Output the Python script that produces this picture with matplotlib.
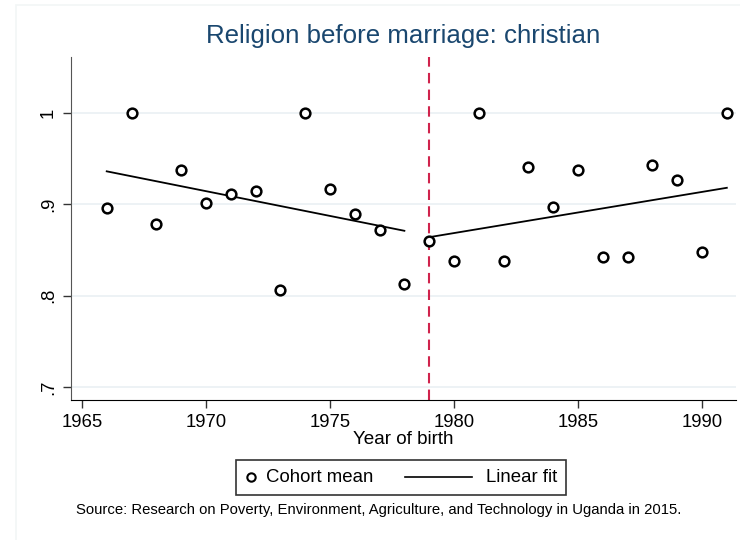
import numpy as np
import matplotlib.pyplot as plt
from matplotlib.patches import Rectangle

plt.rcParams['font.family'] = ['Liberation Sans', 'DejaVu Sans']

years = list(range(1966, 1992))
cohort_mean = [0.896, 1.0, 0.878, 0.938, 0.901, 0.911, 0.915, 0.806, 1.0,
               0.917, 0.889, 0.872, 0.813, 0.860, 0.838, 1.0, 0.838, 0.941,
               0.897, 0.938, 0.842, 0.842, 0.943, 0.927, 0.848, 1.0]

fit_left_x = [1966, 1978]
fit_left_y = [0.936, 0.871]
fit_right_x = [1979, 1991]
fit_right_y = [0.864, 0.918]
cutoff = 1979

xticks = [1965, 1970, 1975, 1980, 1985, 1990]
yticks = [0.7, 0.8, 0.9, 1.0]
ylabels = ['.7', '.8', '.9', '1']

fig = plt.figure(figsize=(7.4, 5.4), dpi=100)
fig.patches.append(Rectangle((16 / 740, -0.1), 1.2, (540 - 5) / 540 + 0.1,
                             transform=fig.transFigure, fill=False,
                             edgecolor='#f2f6f6', lw=1.2))

ax = fig.add_axes([71 / 740, 1 - 400 / 540, (736 - 71) / 740, (400 - 57) / 540])
ax.set_xlim(1964.56, 1991.37)
ax.set_ylim(0.686, 1.061)

for yv in yticks:
    ax.axhline(yv, color='#eaf0f3', lw=1.2, zorder=0)

ax.plot(fit_left_x, fit_left_y, color='black', lw=1.3, zorder=2)
ax.plot(fit_right_x, fit_right_y, color='black', lw=1.3, zorder=2)
ax.axvline(cutoff, color='#d0234c', lw=1.5, ls=(0, (5, 3)), zorder=1)
ax.plot(years, cohort_mean, ls='none', marker='o', ms=7, mfc='white',
        mec='black', mew=1.8, zorder=3)

ax.spines['top'].set_visible(False)
ax.spines['right'].set_visible(False)
ax.spines['left'].set_color('#555555')
ax.spines['bottom'].set_color('black')

ax.set_xticks(xticks)
ax.set_xticklabels([str(x) for x in xticks], fontsize=13.3)
ax.set_yticks(yticks)
ax.set_yticklabels(ylabels, fontsize=13.3, rotation=90, va='center')
ax.tick_params(axis='both', length=6, width=1, color='#333333', pad=4)
ax.set_xlabel('Year of birth', fontsize=13.6, labelpad=0)

fig.text(403 / 740, 1 - 36 / 540, 'Religion before marriage: christian',
         ha='center', va='center', fontsize=18.6, color='#1a476f')

# legend
fig.patches.append(Rectangle((236 / 740, 1 - 495 / 540), 330 / 740, 35 / 540,
                             transform=fig.transFigure, fill=False,
                             edgecolor='#333333', lw=1.2))
fig.lines.append(plt.Line2D([251 / 740], [1 - 477 / 540], ls='none', marker='o',
                            ms=6, mfc='white', mec='black', mew=1.5,
                            transform=fig.transFigure))
fig.text(266 / 740, 1 - 477 / 540, 'Cohort mean', ha='left', va='center', fontsize=13.4)
fig.lines.append(plt.Line2D([405 / 740, 472 / 740], [1 - 477 / 540] * 2,
                            color='black', lw=1.2, transform=fig.transFigure))
fig.text(486 / 740, 1 - 477 / 540, 'Linear fit', ha='left', va='center', fontsize=13.4)

fig.text(379 / 740, 1 - 510 / 540,
         'Source: Research on Poverty, Environment, Agriculture, and Technology in Uganda in 2015.',
         ha='center', va='center', fontsize=10.7)

fig.savefig('out.png', dpi=100)
